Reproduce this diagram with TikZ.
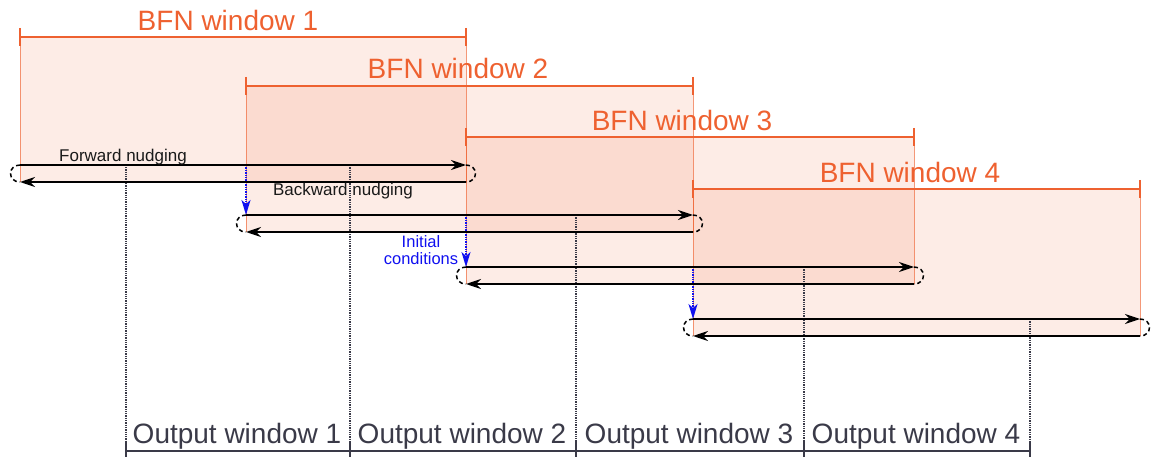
\documentclass[tikz,border=0pt]{standalone}
\usepackage{fontspec}
\setmainfont{Liberation Sans}
\usetikzlibrary{arrows.meta}
\definecolor{bfn}{HTML}{EE6130}
\definecolor{outc}{HTML}{3A3A48}
\definecolor{txt}{HTML}{1A1A1A}
\definecolor{icblue}{HTML}{1010F0}
\begin{document}
\begin{tikzpicture}[x=1pt,y=-1pt,
  winfill/.style={fill=bfn, fill opacity=0.12},
  winedge/.style={draw=bfn, draw opacity=0.65, line width=0.9pt},
  winbar/.style={draw=bfn, line width=2.4pt},
  nudge/.style={draw=black, line width=1.8pt, -{Stealth[length=15pt, width=10pt, inset=5pt]}},
  loopline/.style={draw=black, line width=1.5pt, dash pattern=on 4pt off 3pt},
  icarrow/.style={draw=icblue, densely dotted, line width=1.4pt, -{Stealth[length=15pt, width=9pt, inset=4pt]}},
  outdot/.style={draw=outc, densely dotted, line width=1.3pt},
  outaxis/.style={draw=outc, line width=2pt},
  bfnlabel/.style={text=bfn, font=\fontsize{28}{30}\selectfont, inner sep=0pt, anchor=base},
  outlabel/.style={text=outc, font=\fontsize{28}{30}\selectfont, inner sep=0pt, anchor=base},
  smalllabel/.style={text=txt, font=\fontsize{17}{19}\selectfont, inner sep=0pt, anchor=base}
]
\useasboundingbox (0,0) rectangle (1151,457);

% window geometry
\foreach \i/\a/\b/\bar/\fw in {1/20/466/37/165, 2/246/693/86/215, 3/466/914/137/267, 4/693/1140/189/319}{
  \coordinate (T\i a) at (\a,\bar);
  \coordinate (T\i b) at (\b,\bar);
  \coordinate (F\i a) at (\a,\fw);
  \coordinate (F\i b) at (\b,\fw);
  \pgfmathsetmacro{\bk}{\fw+17}
  \coordinate (B\i a) at (\a,\bk);
  \coordinate (B\i b) at (\b,\bk);
}

% shaded windows
\foreach \i in {1,...,4}{
  \path[winfill] (T\i a) rectangle (B\i b);
}
\foreach \i in {1,...,4}{
  \draw[winedge] (T\i a) -- (B\i a);
  \draw[winedge] (T\i b) -- (B\i b);
}

% output window axis
\foreach \j/\x/\y in {0/126/167, 1/350/165, 2/576/215, 3/804/267, 4/1030/319}{
  \coordinate (D\j) at (\x,\y);
  \coordinate (A\j) at (\x,451);
  \coordinate (At\j) at (\x,441);
  \coordinate (Ab\j) at (\x,458);
}
\foreach \j in {0,...,4}{
  \draw[outdot] (D\j) -- (A\j);
  \draw[outaxis] (At\j) -- (Ab\j);
}
\draw[outaxis] (A0) -- (A4);

% BFN bars
\foreach \i/\a/\b/\bar in {1/20/466/37, 2/246/693/86, 3/466/914/137, 4/693/1140/189}{
  \coordinate (Tu\i a) at (\a,\bar-9);
  \coordinate (Td\i a) at (\a,\bar+9);
  \coordinate (Tu\i b) at (\b,\bar-9);
  \coordinate (Td\i b) at (\b,\bar+9);
  \draw[winbar] (T\i a) -- (T\i b);
  \draw[winbar] (Tu\i a) -- (Td\i a);
  \draw[winbar] (Tu\i b) -- (Td\i b);
}

% initial conditions arrows
\coordinate (I1s) at (F1a -| F2a);
\coordinate (I2s) at (F2a -| F3a);
\coordinate (I3s) at (F3a -| F4a);
\draw[icarrow] (I1s) -- (F2a);
\draw[icarrow] (I2s) -- (F3a);
\draw[icarrow] (I3s) -- (F4a);

% nudging arrows and loops
\foreach \i in {1,...,4}{
  \draw[nudge] (F\i a) -- (F\i b);
  \draw[nudge] (B\i b) -- (B\i a);
  \draw[loopline] (F\i b) to[out=0,in=0,looseness=1.9] (B\i b);
  \draw[loopline] (F\i a) to[out=180,in=180,looseness=1.9] (B\i a);
}

% labels
\node[bfnlabel] (L1) at (228,31) {BFN window 1};
\node[bfnlabel] (L2) at (458,79) {BFN window 2};
\node[bfnlabel] (L3) at (682,131) {BFN window 3};
\node[bfnlabel] (L4) at (910,183) {BFN window 4};

\node[outlabel] (O1) at (237,443) {Output window 1};
\node[outlabel] (O2) at (462,443) {Output window 2};
\node[outlabel] (O3) at (689,443) {Output window 3};
\node[outlabel] (O4) at (916,443) {Output window 4};

\node[smalllabel] (fwd) at (123,162) {Forward nudging};
\node[smalllabel] (bwd) at (343,196) {Backward nudging};
\node[text=icblue, font=\fontsize{16.5}{17.5}\selectfont, inner sep=0pt, align=center] (ic) at (421,250) {Initial\\conditions};
\end{tikzpicture}
\end{document}
